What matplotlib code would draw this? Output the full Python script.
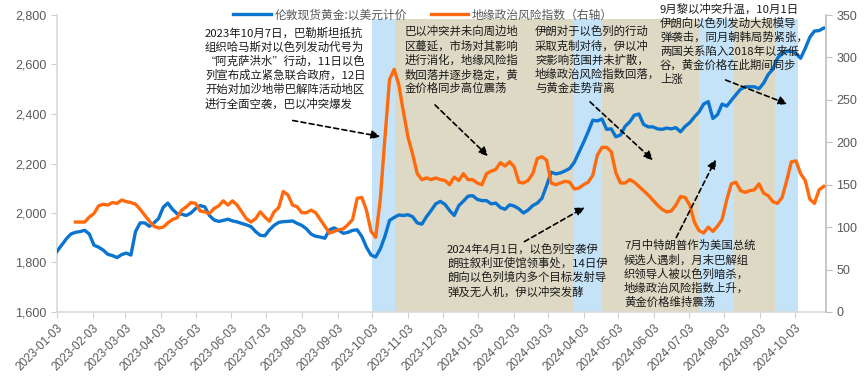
import numpy as np
import pandas as pd
import matplotlib
matplotlib.use('Agg')
import matplotlib.pyplot as plt
import matplotlib.ticker as mticker
from matplotlib.patches import FancyArrowPatch

plt.rcParams['font.family'] = ['Noto Sans CJK SC', 'DejaVu Sans']
plt.rcParams['axes.unicode_minus'] = False

# values every 4 days
dates = pd.date_range('2023-01-03', periods=167, freq='4D')

gold = [1845, 1870, 1895, 1915, 1922, 1925, 1930, 1915, 1870, 1862,
        1850, 1833, 1828, 1820, 1832, 1838, 1830, 1925, 1960, 1960,
        1946, 1960, 1978, 2023, 2040, 2015, 1997, 1995, 1990, 2000,
        2018, 2030, 2025, 1990, 1972, 1966, 1970, 1975, 1968, 1964,
        1958, 1952, 1945, 1925, 1910, 1908, 1932, 1950, 1962, 1965,
        1966, 1968, 1958, 1950, 1936, 1915, 1906, 1903, 1898, 1932,
        1940, 1930, 1918, 1922, 1930, 1932, 1905, 1862, 1830, 1822,
        1855, 1906, 1970, 1982, 1992, 1990, 1993, 1985, 1960, 1955,
        1985, 2010, 2037, 2047, 2035, 2010, 1990, 2030, 2048, 2068,
        2070, 2055, 2050, 2050, 2037, 2040, 2022, 2015, 2033, 2028,
        2017, 2000, 2012, 2030, 2040, 2060, 2110, 2165, 2158, 2162,
        2170, 2180, 2205, 2245, 2285, 2328, 2375, 2372, 2380, 2338,
        2340, 2308, 2315, 2350, 2368, 2395, 2400, 2358, 2348, 2348,
        2340, 2338, 2343, 2340, 2345, 2328, 2350, 2365, 2388, 2408,
        2440, 2450, 2382, 2397, 2440, 2432, 2455, 2478, 2500, 2510,
        2510, 2510, 2502, 2525, 2560, 2581, 2626, 2643, 2654, 2653,
        2645, 2625, 2665, 2710, 2735, 2737, 2747]

risk = [np.nan, np.nan, np.nan, np.nan, 106, 106, 106, 112, 116, 125,
        127, 126, 129, 128, 132, 130, 129, 127, 121, 114,
        107, 101, 99, 100, 105, 109, 111, 120, 124, 129,
        128, 119, 118, 116, 122, 125, 131, 126, 131, 126,
        118, 110, 106, 110, 118, 112, 107, 118, 123, 142,
        138, 126, 124, 117, 117, 120, 117, 109, 101, 93,
        95, 97, 98, 103, 109, 134, 135, 120, 95, 88,
        133, 205, 274, 286, 268, 236, 206, 186, 163, 156,
        158, 156, 158, 156, 155, 150, 159, 155, 163, 156,
        156, 152, 150, 163, 166, 168, 176, 172, 177, 171,
        153, 152, 155, 163, 181, 183, 179, 152, 150, 152,
        154, 153, 145, 146, 150, 153, 161, 185, 194, 194,
        189, 164, 152, 152, 156, 153, 148, 143, 138, 132,
        126, 121, 118, 119, 126, 136, 135, 126, 106, 96,
        93, 100, 95, 101, 109, 132, 151, 153, 143, 141,
        143, 144, 151, 140, 137, 130, 128, 135, 155, 177,
        178, 163, 155, 133, 128, 144, 148]

# shaded periods (start, end, kind)
periods = [('2023-10-03', '2023-10-23', 'conflict'),
           ('2023-10-23', '2024-03-26', 'calm'),
           ('2024-03-26', '2024-04-19', 'conflict'),
           ('2024-04-19', '2024-07-12', 'calm'),
           ('2024-07-12', '2024-08-11', 'conflict'),
           ('2024-08-11', '2024-09-16', 'calm'),
           ('2024-09-16', '2024-10-06', 'conflict')]
shade = {'conflict': '#C4E3F9', 'calm': '#DDD9C4'}

tick_dates = pd.date_range('2023-01-01', '2024-10-01', freq='MS') + pd.Timedelta(days=2)

notes = [
    ("2023年10月7日，巴勒斯坦抵抗\n组织哈马斯对以色列发动代号为\n“阿克萨洪水”行动，11日以色\n"
     "列宣布成立紧急联合政府，12日\n开始对加沙地带巴解阵活动地区\n进行全面空袭，巴以冲突爆发",
     (205, 27), (290, 120), (383, 137)),
    ("巴以冲突并未向周边地\n区蔓延，市场对其影响\n进行消化，地缘风险指\n数回落并逐步稳定，黄\n金价格同步高位震荡",
     (405, 26), (433, 103), (490, 158)),
    ("伊朗对于以色列的行动\n采取克制对待，伊以冲\n突影响范围并未扩散，\n地缘政治风险指数回落，\n与黄金走势背离",
     (535, 26), (588, 100), (655, 162)),
    ("9月黎以冲突升温，10月1日\n伊朗向以色列发动大规模导\n弹袭击，同月朝韩局势紧张，\n两国关系陷入2018年以来低\n谷，黄金价格在此期间同步\n上涨",
     (660, 3), (723, 79), (790, 105)),
    ("2024年4月1日，以色列空袭伊\n朗驻叙利亚使馆领事处，14日伊\n朗向以色列境内多个目标发射导\n弹及无人机，伊以冲突发酵",
     (447, 243), (522, 243), (587, 206)),
    ("7月中特朗普作为美国总统\n候选人遇刺，月末巴解组\n织领导人被以色列暗杀，\n地缘政治风险指数上升，\n黄金价格维持震荡",
     (624, 240), (675, 240), (717, 157)),
]

W, H = 866, 384
fig = plt.figure(figsize=(W / 100, H / 100), dpi=100)
ax = fig.add_axes([57 / W, 1 - 312 / H, (826 - 57) / W, (312 - 15) / H])
ax2 = ax.twinx()

for s, e, kind in periods:
    ax.axvspan(pd.Timestamp(s), pd.Timestamp(e), ymin=0, ymax=0.986,
               color=shade[kind], lw=0, zorder=0)

l1, = ax.plot(dates, gold, color='#0A74CF', lw=2.4, zorder=3,
              label='伦敦现货黄金:以美元计价')
l2, = ax2.plot(dates, risk, color='#FF6A0D', lw=2.4, zorder=3,
               label='地缘政治风险指数（右轴）')

ax.set_ylim(1600, 2800)
ax.set_yticks(np.arange(1600, 2801, 200))
ax.yaxis.set_major_formatter(mticker.StrMethodFormatter('{x:,.0f}'))
ax2.set_ylim(0, 350)
ax2.set_yticks(np.arange(0, 351, 50))
ax.set_xlim(pd.Timestamp('2023-01-03'), pd.Timestamp('2024-10-30'))
ax.set_xticks(tick_dates)
ax.set_xticklabels([d.strftime('%Y-%m-%d') for d in tick_dates],
                   rotation=45, ha='right', rotation_mode='anchor')

for a in (ax, ax2):
    a.spines['top'].set_visible(False)
    a.tick_params(colors='#595959', labelsize=9, length=4, width=0.8)
    for lab in a.get_xticklabels() + a.get_yticklabels():
        lab.set_fontfamily('Liberation Sans')
ax.tick_params(axis='x', labelsize=8.5, color='#D0D0D0')
ax.tick_params(axis='y', color='#D0D0D0')
ax2.tick_params(axis='y', color='#BFBFBF')
ax.spines['left'].set_color('#D9D9D9')
ax.spines['bottom'].set_color('#D9D9D9')
ax.spines['right'].set_visible(False)
ax2.spines['left'].set_visible(False)
ax2.spines['bottom'].set_visible(False)
ax2.spines['right'].set_color('#BFBFBF')
for sp in ('left', 'bottom'):
    ax.spines[sp].set_linewidth(1.2)
ax2.spines['right'].set_linewidth(1.2)

fig.legend(handles=[l1, l2], loc='center', bbox_to_anchor=(423 / W, 1 - 15 / H),
           ncol=2, frameon=False, fontsize=8.5, handlelength=3.2,
           columnspacing=2.0, handletextpad=0.3, labelcolor='#595959')


def fpos(p):
    return (p[0] / W, 1 - p[1] / H)


for text, tpos, a0, a1 in notes:
    fig.text(*fpos(tpos), text, fontsize=8.2, va='top', ha='left',
             color='#1A1A1A', linespacing=1.32, zorder=6)
    fig.add_artist(FancyArrowPatch(
        fpos(a0), fpos(a1), transform=fig.transFigure,
        arrowstyle='-|>', mutation_scale=13, color='black',
        lw=1.2, linestyle=(0, (3, 2)), zorder=6))

fig.savefig('out.png', dpi=100)
